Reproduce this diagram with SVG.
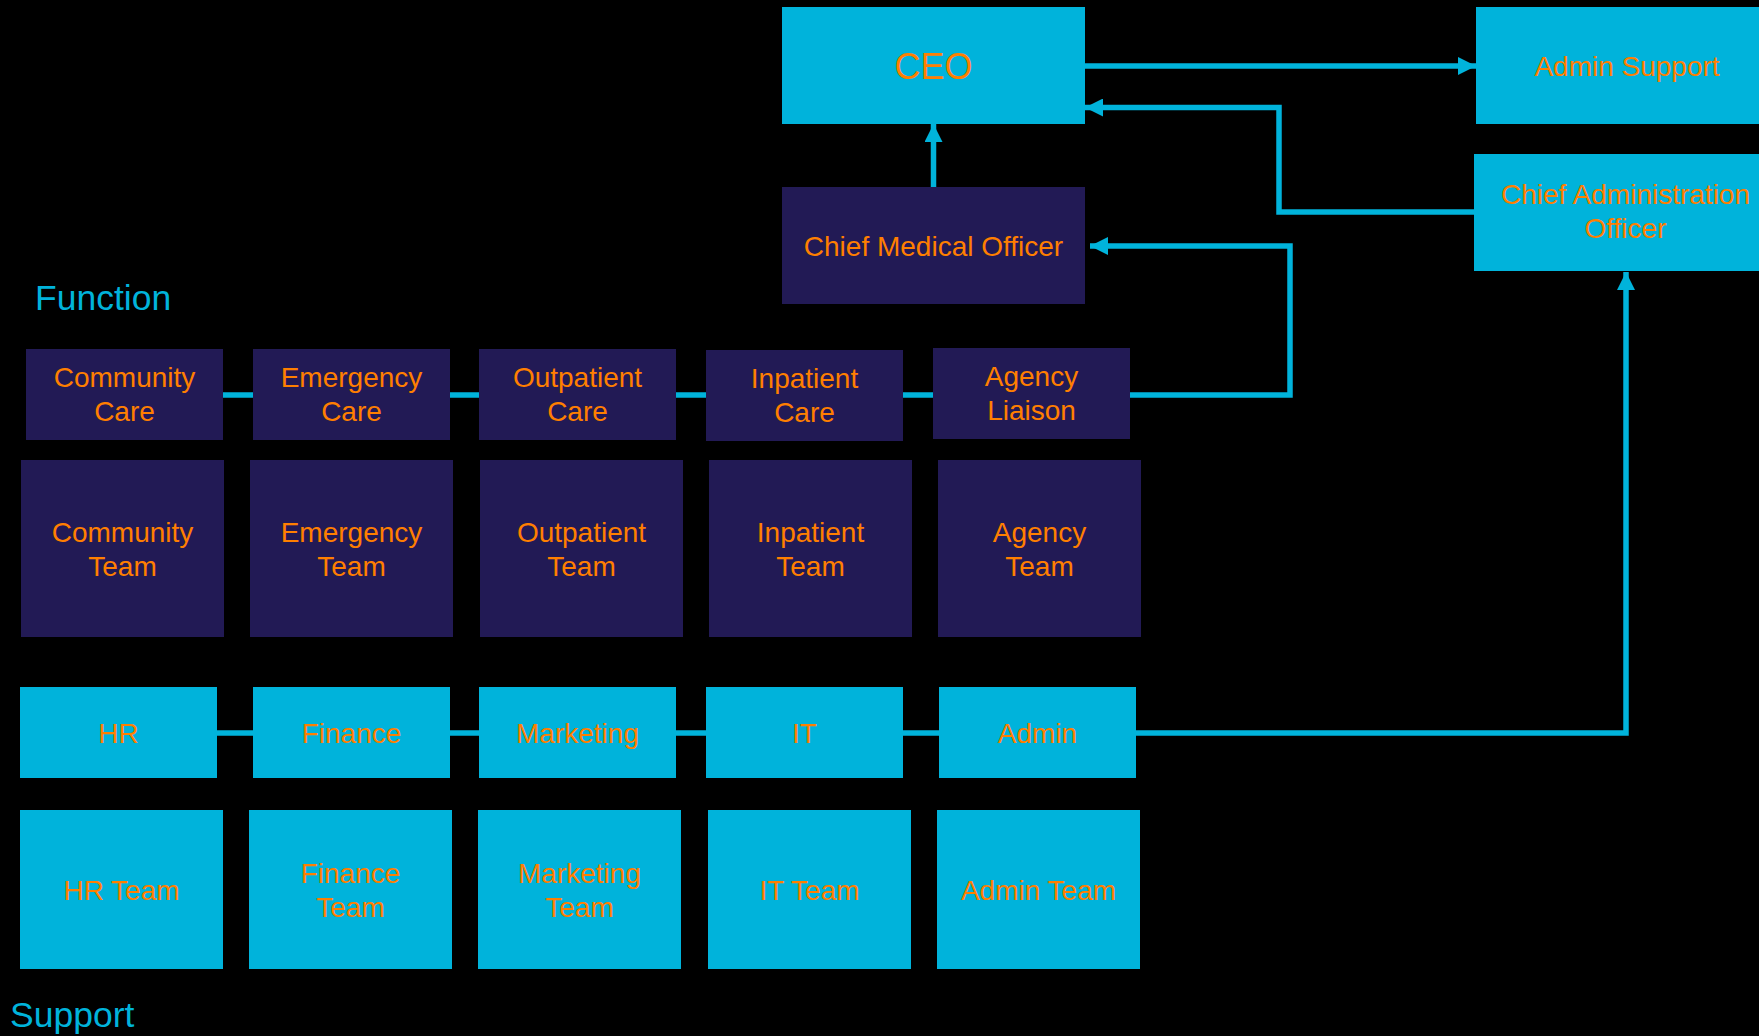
<svg xmlns="http://www.w3.org/2000/svg" width="1759" height="1036" viewBox="0 0 1759 1036">
<style>
.bg{fill:#000000}
.cy{fill:#00B3DB}
.nv{fill:#221A55}
.t{font-family:"Liberation Sans",Arial,sans-serif;font-size:28px;fill:#FF7F00;text-anchor:middle}
.big{font-size:36px}
.lbl{font-family:"Liberation Sans",Arial,sans-serif;font-size:35.5px;fill:#00B3DB}
.ln{stroke:#00B3DB;stroke-width:5.5;fill:none}
</style>
<defs>
<marker id="ah" markerUnits="userSpaceOnUse" markerWidth="18" markerHeight="18" viewBox="0 0 18 18" refX="18" refY="9" orient="auto">
<path d="M0,0 L18,9 L0,18 Z" fill="#00B3DB"/>
</marker>
</defs>
<rect class="bg" x="0" y="0" width="1759" height="1036"/>
<g id="connectors">
<line class="ln" x1="1085" y1="66" x2="1476" y2="66" marker-end="url(#ah)"/>
<polyline class="ln" points="1474,212 1279,212 1279,107.5 1085,107.5" marker-end="url(#ah)"/>
<line class="ln" x1="933.5" y1="187" x2="933.5" y2="124" marker-end="url(#ah)"/>
<polyline class="ln" points="1130,395 1290,395 1290,246 1090,246" marker-end="url(#ah)"/>
<polyline class="ln" points="1136,733 1626,733 1626,272" marker-end="url(#ah)"/>
<line class="ln" x1="223" y1="395" x2="253" y2="395"/>
<line class="ln" x1="450" y1="395" x2="479" y2="395"/>
<line class="ln" x1="676" y1="395" x2="706" y2="395"/>
<line class="ln" x1="903" y1="395" x2="933" y2="395"/>
<line class="ln" x1="217" y1="733" x2="253" y2="733"/>
<line class="ln" x1="450" y1="733" x2="479" y2="733"/>
<line class="ln" x1="676" y1="733" x2="706" y2="733"/>
<line class="ln" x1="903" y1="733" x2="939" y2="733"/>
</g>
<g id="ceo"><rect class="cy" x="782" y="7" width="303" height="117"/><text class="t big" x="933.5" y="79">CEO</text></g>
<g id="admin-support"><rect class="cy" x="1476" y="7" width="303" height="117"/><text class="t" x="1627" y="75.5">Admin Support</text></g>
<g id="cao"><rect class="cy" x="1474" y="154" width="303" height="117"/><text class="t" x="1625.5" y="204">Chief Administration</text><text class="t" x="1625.5" y="238">Officer</text></g>
<g id="cmo"><rect class="nv" x="782" y="187" width="303" height="117"/><text class="t" x="933.5" y="255.5">Chief Medical Officer</text></g>
<text class="lbl" x="35" y="310">Function</text>
<text class="lbl" x="10" y="1027">Support</text>
<g id="community-care"><rect class="nv" x="26" y="349" width="197" height="91"/><text class="t" x="124.5" y="387">Community</text><text class="t" x="124.5" y="421">Care</text></g>
<g id="emergency-care"><rect class="nv" x="253" y="349" width="197" height="91"/><text class="t" x="351.5" y="387">Emergency</text><text class="t" x="351.5" y="421">Care</text></g>
<g id="outpatient-care"><rect class="nv" x="479" y="349" width="197" height="91"/><text class="t" x="577.5" y="387">Outpatient</text><text class="t" x="577.5" y="421">Care</text></g>
<g id="inpatient-care"><rect class="nv" x="706" y="350" width="197" height="91"/><text class="t" x="804.5" y="388">Inpatient</text><text class="t" x="804.5" y="422">Care</text></g>
<g id="agency-liaison"><rect class="nv" x="933" y="348" width="197" height="91"/><text class="t" x="1031.5" y="386">Agency</text><text class="t" x="1031.5" y="420">Liaison</text></g>
<g id="community-team"><rect class="nv" x="21" y="460" width="203" height="177"/><text class="t" x="122.5" y="542">Community</text><text class="t" x="122.5" y="576">Team</text></g>
<g id="emergency-team"><rect class="nv" x="250" y="460" width="203" height="177"/><text class="t" x="351.5" y="542">Emergency</text><text class="t" x="351.5" y="576">Team</text></g>
<g id="outpatient-team"><rect class="nv" x="480" y="460" width="203" height="177"/><text class="t" x="581.5" y="542">Outpatient</text><text class="t" x="581.5" y="576">Team</text></g>
<g id="inpatient-team"><rect class="nv" x="709" y="460" width="203" height="177"/><text class="t" x="810.5" y="542">Inpatient</text><text class="t" x="810.5" y="576">Team</text></g>
<g id="agency-team"><rect class="nv" x="938" y="460" width="203" height="177"/><text class="t" x="1039.5" y="542">Agency</text><text class="t" x="1039.5" y="576">Team</text></g>
<g id="hr"><rect class="cy" x="20" y="687" width="197" height="91"/><text class="t" x="118.5" y="743">HR</text></g>
<g id="finance"><rect class="cy" x="253" y="687" width="197" height="91"/><text class="t" x="351.5" y="743">Finance</text></g>
<g id="marketing"><rect class="cy" x="479" y="687" width="197" height="91"/><text class="t" x="577.5" y="743">Marketing</text></g>
<g id="it"><rect class="cy" x="706" y="687" width="197" height="91"/><text class="t" x="804.5" y="743">IT</text></g>
<g id="admin"><rect class="cy" x="939" y="687" width="197" height="91"/><text class="t" x="1037.5" y="743">Admin</text></g>
<g id="hr-team"><rect class="cy" x="20" y="810" width="203" height="159"/><text class="t" x="121.5" y="900">HR Team</text></g>
<g id="finance-team"><rect class="cy" x="249" y="810" width="203" height="159"/><text class="t" x="350.5" y="883">Finance</text><text class="t" x="350.5" y="917">Team</text></g>
<g id="marketing-team"><rect class="cy" x="478" y="810" width="203" height="159"/><text class="t" x="579.5" y="883">Marketing</text><text class="t" x="579.5" y="917">Team</text></g>
<g id="it-team"><rect class="cy" x="708" y="810" width="203" height="159"/><text class="t" x="809.5" y="900">IT Team</text></g>
<g id="admin-team"><rect class="cy" x="937" y="810" width="203" height="159"/><text class="t" x="1038.5" y="900">Admin Team</text></g>
</svg>
